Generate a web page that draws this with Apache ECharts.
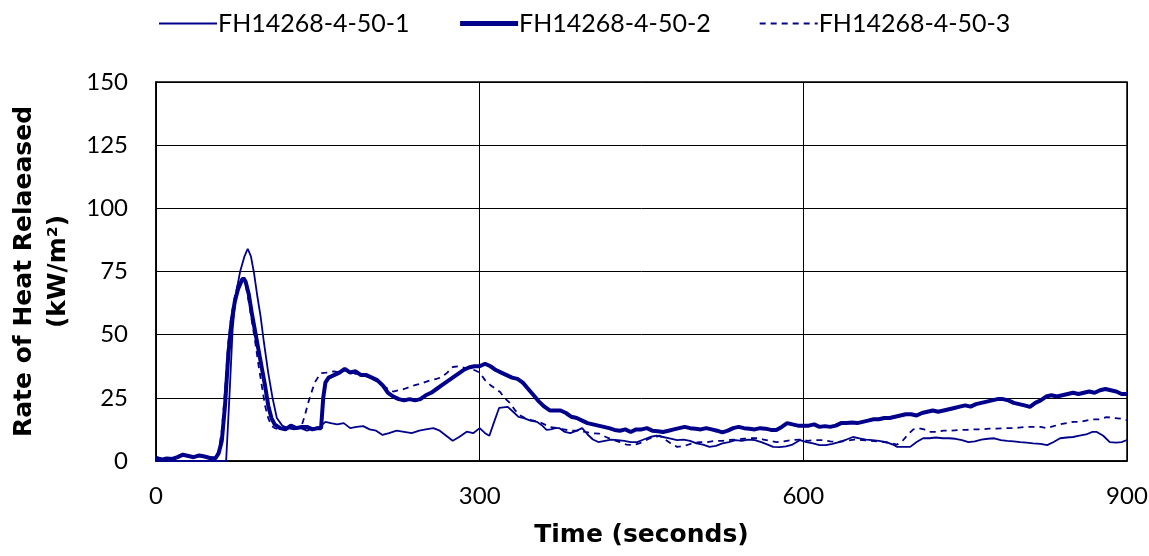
<!DOCTYPE html>
<html>
<head>
<meta charset="utf-8">
<script src="https://cdn.jsdelivr.net/npm/echarts@6/dist/echarts.min.js"></script>
<style>html,body{margin:0;padding:0;background:#fff}#c{width:1149px;height:556px}</style>
</head>
<body>
<div id="c"></div>
<script>
const seriesNames = ['FH14268-4-50-1', 'FH14268-4-50-2', 'FH14268-4-50-3'];
const xTicks = [0, 300, 600, 900];
const yTicks = [0, 25, 50, 75, 100, 125, 150];

const t1 = [0,60,65,68,71,74,78,82,85,88,91,94,97,100,104,108,112,117,122,128,134,140,146,152,157,162,168,174,180,186,192,198,204,210,216,223,230,237,244,250,257,263,269,275,281,288,294,300,305,309,313,318,326,331,336,341,347,353,358,362,366,370,374,379,384,390,395,400,405,410,416,422,428,434,440,446,452,458,464,470,476,483,489,495,501,507,513,519,525,531,537,543,549,555,561,567,572,578,584,590,597,603,609,615,621,627,633,640,646,652,658,664,670,677,683,687,693,699,705,711,717,723,729,735,741,747,753,759,765,771,777,783,789,795,801,807,813,820,826,832,838,844,850,856,862,868,872,878,884,890,895,900];
const v1 = [0,0,0,25,52,66,75,81,84,81,74,65,57,47,35,25,17,14,13,12.5,13,12,13,13.5,15.5,15,14.5,15,13,13.5,13.8,12.5,12,10.3,11,12,11.5,11,12,12.5,13,12,10,8,9.5,11.6,11,13,11,10,15,21,21.4,19.5,17.5,17,16,15.5,14,12.3,12.5,13,13,11.5,11,12,13,10.5,8.5,7.5,8,8.5,8.3,8,7.5,7.5,8.5,9.5,10,9.5,9,8.3,8.5,8,7,6.5,5.6,6,7,7.5,8.3,8,8.5,8.3,7.5,6.5,5.6,5.5,5.8,6.5,8.3,7.5,7,6.3,6.3,6.8,7.5,8.5,9.5,9,8.5,8.3,8,7.5,6.5,5.6,5.6,5.6,7.5,9,9,9.3,9,9,8.8,8.3,7.5,7.8,8.5,8.8,9,8.3,8,7.8,7.5,7.3,7,6.8,6.3,7.5,9,9.3,9.5,10,10.5,11.5,11.5,10,7.5,7.3,7.5,8.3];

const t2 = [0,5,10,15,20,25,30,35,40,45,50,55,58,61,64,67,70,73,76,79,81,83,86,89,92,95,98,101,104,107,110,115,120,125,130,135,140,145,150,153,155,157,160,165,170,175,180,185,190,195,200,205,210,215,220,225,230,235,240,245,250,255,260,265,270,275,280,285,290,295,300,305,310,315,320,325,330,335,340,345,350,355,360,365,370,375,380,385,390,395,400,405,410,415,420,425,430,435,440,445,450,455,460,465,470,475,480,485,490,495,500,505,510,515,520,525,530,535,540,545,550,555,560,565,570,575,580,585,590,595,600,605,610,615,620,625,630,635,640,645,650,655,660,665,670,675,680,685,690,695,700,705,710,715,720,725,730,735,740,745,750,755,760,765,770,775,780,785,790,795,800,805,810,815,820,825,830,835,840,845,850,855,860,865,870,875,880,885,890,895,900];
const v2 = [1.2,0.5,1,0.8,1.5,2.5,2,1.5,2.2,1.8,1.2,1,3,8,22,42,55,63,68,71,72.4,71,66,58,51,44,37,30,22,17,14.5,13,12.5,14,13,13.5,13.5,12.5,13,13,25,31,33,34,35,36.5,35,35.5,34,34,33,32,30,27,25.5,24.5,24,24.5,24,24.5,26,27,28.5,30,31.5,33,34.5,36,37,37.5,37.5,38.5,37.5,36,35,34,33,32.5,31,28.5,26,23.5,21.5,20,20,20,19,17.5,17,16,15,14.5,14,13.5,13,12.3,12,12.5,11.5,12.5,12.5,13,12,11.8,11.5,12,12.5,13,13.5,13,12.8,12.5,13,12.5,12,11.3,12,13,13.5,13,12.8,12.5,13,12.8,12.3,12.3,13.5,15,14.5,14,14,14,14.5,13.5,13.8,13.5,14,15,15,15.2,15,15.5,16,16.5,16.5,17,17,17.5,18,18.5,18.5,18,19,19.5,20,19.5,20,20.5,21,21.5,22,21.5,22.5,23,23.5,24,24.5,24.5,24,23,22.5,22,21.4,23,24,25.5,26,25.5,26,26.5,27,26.5,27,27.5,27,28,28.5,28,27.5,26.5,26.5];

const t3 = [0,5,10,15,20,25,30,35,40,45,50,55,58,61,64,67,70,73,76,79,81,83,86,89,92,95,98,101,104,107,110,115,120,125,130,135,138,141,144,147,150,153,158,165,170,175,180,185,190,195,200,205,210,215,220,225,230,235,240,245,250,255,260,265,270,275,280,285,290,295,300,305,310,315,319,323,328,333,337,342,348,355,360,365,372,378,385,392,398,405,411,417,424,430,436,442,448,453,458,463,467,472,477,483,490,497,504,511,518,525,531,538,545,551,557,563,569,575,582,590,597,604,611,618,625,632,640,647,654,661,668,675,681,687,692,697,702,707,712,717,723,730,737,744,751,758,765,772,779,786,793,800,807,813,820,826,832,838,844,850,856,862,868,875,881,888,894,900];
const v3 = [1.5,1,0.8,1.2,2,2.8,2.2,1.6,2.4,2,1.5,1.2,4,12,28,47,58,65,70,72,72,70,63,55,47,38,30,22,17,14,13,12.5,13,13.5,13,14,18,23,27,31,33,34.8,35,35.5,35,36,35.5,34.5,34.5,33.5,32.5,31.5,30,28.5,27.5,28,28.5,29.3,30,30.5,31.3,32,32.5,33.2,35,37.2,37.5,37,36.5,36,35,32,30,28.5,27.3,25,23,20,18.2,17,16.2,15.5,14.5,13.5,13,12.5,12,12,11.5,11,10.8,9.5,8.3,7.5,6.5,6.3,7,8,9,9.5,10,8.5,7,5.6,6,7,7.5,7.5,8,8,8.3,8.5,8.8,9,9,8.5,8,7.5,7.8,8.3,8.5,8,8.3,8.3,7.8,7.5,8,8.5,8.3,8,7.8,7.5,7,6.5,8,10.5,12.5,13,12.5,11.5,11.5,12,12,12.3,12.3,12.5,12.5,12.8,12.8,13,13,13.2,13.5,13.5,13.5,13,13.8,14.5,15,15.5,15.5,16,16.5,16.5,17.4,17,16.8,16.2];

const pair = (t, v) => t.map((x, i) => [x, v[i]]);
const color = '#00008B';
const legendWidths = [2, 5, 2];
const chart = echarts.init(document.getElementById('c'));
chart.setOption({
  animation: false,
  backgroundColor: '#fff',
  legend: {
    top: 6, left: 153, itemWidth: 58, itemHeight: 14, itemGap: 48,
    itemStyle: { opacity: 0 },
    textStyle: { fontFamily: 'Lato', fontSize: 25, color: '#000', padding: [0, 0, 0, -4] },
    data: seriesNames.map((n, i) => ({
      name: n,
      lineStyle: { width: legendWidths[i], color: color, type: i === 2 ? [6, 5] : 'solid' }
    }))
  },
  grid: { left: 156, right: 22, top: 82, bottom: 95, outerBoundsMode: 'none', containLabel: false,
          show: true, borderColor: '#000', borderWidth: 1.5 },
  xAxis: {
    type: 'value', min: 0, max: 900, interval: 300,
    name: 'Time (seconds)', nameLocation: 'middle', nameGap: 62,
    nameTextStyle: { fontFamily: 'DejaVu Sans', fontWeight: 'bold', fontSize: 25, color: '#000' },
    axisLine: { lineStyle: { color: '#000', width: 1.5 } },
    axisTick: { show: false },
    axisLabel: { margin: 23, fontFamily: 'Lato', fontSize: 24, color: '#000',
      formatter: v => xTicks.includes(v) ? String(v) : '' },
    splitLine: { show: true, lineStyle: { color: '#000', width: 1 } }
  },
  yAxis: {
    type: 'value', min: 0, max: 150, interval: 25,
    name: 'Rate of Heat Relaeased\n(kW/m²)', nameLocation: 'middle', nameGap: 64, nameRotate: 90,
    nameTextStyle: { fontFamily: 'DejaVu Sans', fontWeight: 'bold', fontSize: 25, color: '#000', lineHeight: 34 },
    axisLine: { show: true, lineStyle: { color: '#000', width: 1.5 } },
    axisTick: { show: false },
    axisLabel: { margin: 28, fontFamily: 'Lato', fontSize: 24, color: '#000',
      formatter: v => yTicks.includes(v) ? String(v) : '' },
    splitLine: { show: true, lineStyle: { color: '#000', width: 1 } }
  },
  series: [
    { name: seriesNames[0], type: 'line', data: pair(t1, v1), showSymbol: false, symbol: 'none',
      lineStyle: { color: color, width: 1.8 }, itemStyle: { color: color } },
    { name: seriesNames[1], type: 'line', data: pair(t2, v2), showSymbol: false, symbol: 'none',
      lineStyle: { color: color, width: 4 }, itemStyle: { color: color } },
    { name: seriesNames[2], type: 'line', data: pair(t3, v3), showSymbol: false, symbol: 'none',
      lineStyle: { color: color, width: 1.8, type: [6, 5] }, itemStyle: { color: color } }
  ]
});
</script>
</body>
</html>
